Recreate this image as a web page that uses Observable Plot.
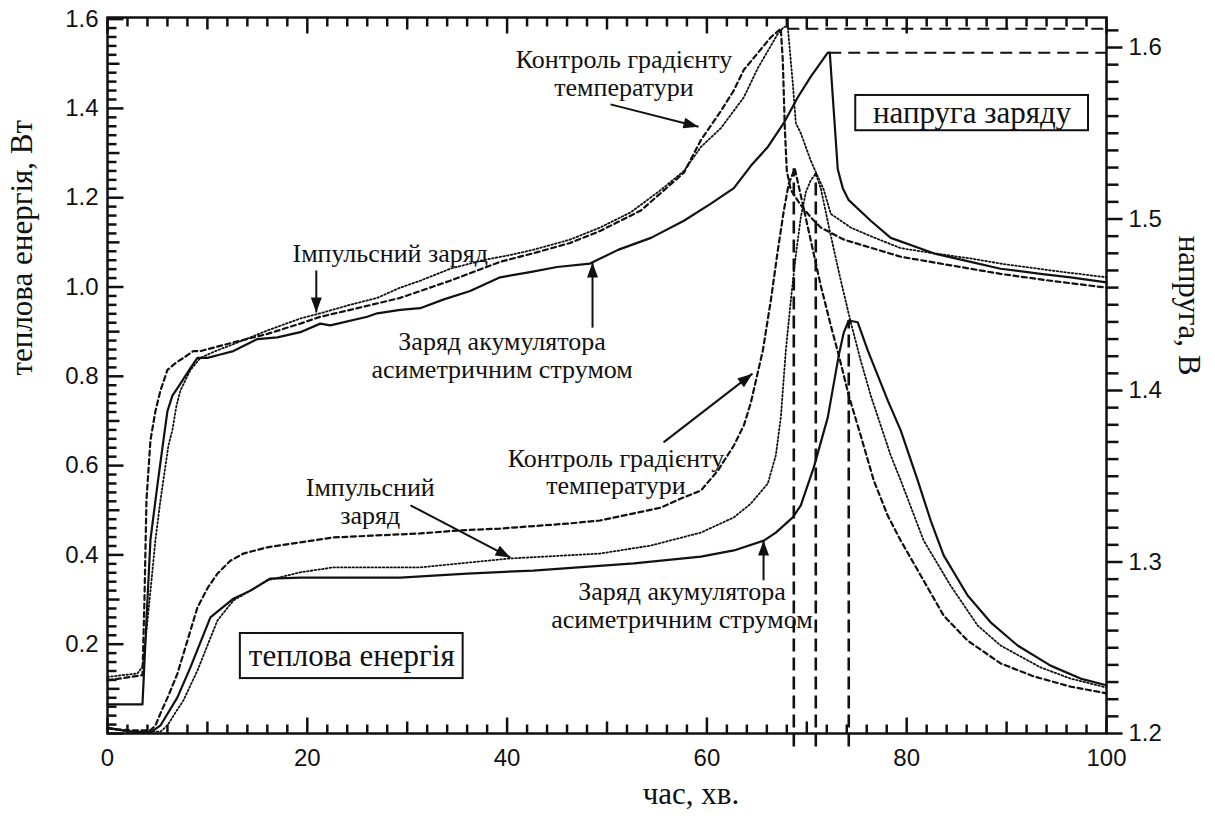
<!DOCTYPE html>
<html><head><meta charset="utf-8">
<script src="https://cdn.jsdelivr.net/npm/d3@7"></script>
<script src="https://cdn.jsdelivr.net/npm/@observablehq/plot@0.6"></script>
<style>
html,body{margin:0;padding:0;background:#fff;}
#chart{width:1215px;height:820px;}
</style></head><body><div id="chart"></div>
<script>
// ---------- DATA (time in min, heat in W, voltage in V) ----------
const voltSolid = [[0,1.217],[3.5,1.217],[3.9,1.266],[4.3,1.313],[5.0,1.345],[5.6,1.371],[6.0,1.388],[6.5,1.397],[7.3,1.404],[8.3,1.413],[9.0,1.419],[10.0,1.419],[11.3,1.421],[12.6,1.423],[15.0,1.430],[17.0,1.431],[19.3,1.434],[21.3,1.439],[22.3,1.438],[26.0,1.443],[27.0,1.445],[29.3,1.447],[31.3,1.448],[33.6,1.453],[36.3,1.458],[39.3,1.466],[42.3,1.469],[45.0,1.472],[48.3,1.474],[51.1,1.482],[54.4,1.489],[57.7,1.499],[60.4,1.509],[62.7,1.518],[64.4,1.531],[66.1,1.542],[67.7,1.556],[69.1,1.571],[70.4,1.583],[72.1,1.597],[72.3,1.597],[72.7,1.563],[73.1,1.529],[73.6,1.518],[74.2,1.511],[76.4,1.499],[78.4,1.489],[82.7,1.480],[86.4,1.475],[89.4,1.471],[93.4,1.468],[96.4,1.466],[100,1.463]];
const voltPulse = [[0,1.233],[3.0,1.235],[3.5,1.239],[3.8,1.254],[4.3,1.283],[4.8,1.313],[5.3,1.336],[5.6,1.348],[6.1,1.368],[6.5,1.377],[6.9,1.391],[7.3,1.400],[8.3,1.412],[9.3,1.419],[10.8,1.423],[12.6,1.427],[16.0,1.435],[19.3,1.442],[21.3,1.445],[24.3,1.450],[27.0,1.454],[29.3,1.460],[31.3,1.464],[34.3,1.471],[37.6,1.476],[40.3,1.479],[42.6,1.482],[46.3,1.488],[49.3,1.495],[52.4,1.504],[55.4,1.517],[57.7,1.528],[59.4,1.542],[61.4,1.553],[63.7,1.571],[65.1,1.588],[66.4,1.601],[67.1,1.608],[67.7,1.612],[68.1,1.612],[68.4,1.592],[68.6,1.579],[68.9,1.556],[69.4,1.550],[70.4,1.534],[71.7,1.517],[72.4,1.503],[74.4,1.495],[76.4,1.490],[79.4,1.483],[82.7,1.480],[86.4,1.477],[89.4,1.474],[94.4,1.470],[100,1.466]];
const voltGrad = [[0,1.231],[3.5,1.234],[3.7,1.278],[3.9,1.336],[4.3,1.371],[4.8,1.388],[5.3,1.400],[6.0,1.412],[6.8,1.416],[7.6,1.419],[8.6,1.423],[9.3,1.423],[12.6,1.428],[16.0,1.433],[19.3,1.439],[21.3,1.443],[24.3,1.447],[29.3,1.454],[34.3,1.464],[39.3,1.475],[42.6,1.480],[46.3,1.486],[49.3,1.493],[53.4,1.505],[57.7,1.527],[59.4,1.546],[61.4,1.563],[62.7,1.575],[63.7,1.587],[64.7,1.594],[66.4,1.606],[67.4,1.611],[67.6,1.592],[67.8,1.553],[68.0,1.528],[68.4,1.517],[69.4,1.508],[70.4,1.501],[71.4,1.495],[73.7,1.488],[79.4,1.478],[84.4,1.473],[89.4,1.468],[94.4,1.464],[100,1.460]];

const heatSolid = [[0,0.013],[2.3,0.004],[4.3,0.002],[5.3,0.018],[7.0,0.081],[8.3,0.148],[10.3,0.260],[12.6,0.302],[14.3,0.320],[16.3,0.347],[19.3,0.349],[29.3,0.349],[36.0,0.358],[42.6,0.365],[52.7,0.381],[59.4,0.396],[62.7,0.410],[65.7,0.432],[66.9,0.450],[67.9,0.470],[68.6,0.484],[69.4,0.511],[70.7,0.596],[72.1,0.708],[73.2,0.847],[73.7,0.898],[74.2,0.925],[75.1,0.921],[76.1,0.858],[77.1,0.802],[78.1,0.746],[79.4,0.679],[81.1,0.567],[82.4,0.477],[83.7,0.399],[86.1,0.309],[88.4,0.249],[91.1,0.197],[94.4,0.152],[97.4,0.123],[100,0.108]];
const heatPulse = [[0,0.011],[2.3,0.004],[5.3,0.004],[6.0,0.018],[6.8,0.047],[7.6,0.074],[9.0,0.141],[11.0,0.253],[12.6,0.298],[14.3,0.320],[16.0,0.343],[19.3,0.361],[22.6,0.372],[31.3,0.372],[40.3,0.392],[49.3,0.403],[54.4,0.421],[59.4,0.450],[62.7,0.484],[64.4,0.515],[66.1,0.560],[66.9,0.623],[67.4,0.708],[67.9,0.858],[68.4,0.970],[68.9,1.071],[69.4,1.156],[69.9,1.212],[70.4,1.239],[70.9,1.254],[71.4,1.221],[72.4,1.115],[73.4,1.015],[74.4,0.921],[75.4,0.835],[76.4,0.757],[77.4,0.690],[78.4,0.623],[79.4,0.567],[81.7,0.432],[84.4,0.331],[87.1,0.242],[89.4,0.197],[93.4,0.148],[96.4,0.123],[100,0.103]];
const heatGrad = [[0,0.011],[2.3,0.007],[4.3,0.007],[4.8,0.018],[5.3,0.045],[6.1,0.085],[7.0,0.134],[8.0,0.208],[9.0,0.282],[10.0,0.325],[11.0,0.358],[12.3,0.387],[13.6,0.403],[16.0,0.417],[19.3,0.428],[22.6,0.439],[26.3,0.443],[31.3,0.448],[35.3,0.455],[39.3,0.459],[46.0,0.470],[49.3,0.477],[52.7,0.493],[55.4,0.506],[57.7,0.529],[59.4,0.544],[61.1,0.589],[62.7,0.645],[63.7,0.690],[64.4,0.741],[65.6,0.858],[66.4,0.970],[67.1,1.082],[67.7,1.171],[68.2,1.232],[68.8,1.265],[69.4,1.205],[70.4,1.104],[71.4,1.003],[72.4,0.914],[73.2,0.847],[74.2,0.757],[75.4,0.667],[76.7,0.567],[78.1,0.488],[79.4,0.432],[81.4,0.354],[83.7,0.264],[86.1,0.208],[89.4,0.157],[92.7,0.128],[96.4,0.105],[100,0.090]];

// cut-off markers: heat peaks (vertical) and voltage peaks (horizontal)
const cutoffTimes = [68.7, 70.9, 74.2];
const cutoffHeat  = [1.265, 1.254, 0.925];
const capTimes = [68.1, 72.3];
const capVolts = [1.611, 1.597];

// tick labels
const xTickLabels = [0, 20, 40, 60, 80, 100];
const heatTickLabels = [0.2, 0.4, 0.6, 0.8, 1.0, 1.2, 1.4, 1.6];
const voltTickLabels = [1.2, 1.3, 1.4, 1.5, 1.6];

// annotation texts
const noteTexts = [
  "Контроль градієнту\nтемператури",
  "Імпульсний заряд",
  "Заряд акумулятора\nасиметричним струмом",
  "Контроль градієнту\nтемператури",
  "Імпульсний\nзаряд",
  "Заряд акумулятора\nасиметричним струмом"
];
const noteT = [51.7, 28.3, 39.5, 50.9, 26.3, 57.5];
const noteE = [1.479, 1.075, 0.847, 0.587, 0.520, 0.287];
const arrowT1 = [50.35, 20.9, 48.55, 55.66, 30.33, 65.67];
const arrowE1 = [1.409, 1.037, 0.909, 0.652, 0.511, 0.343];
const arrowT2 = [59.16, 20.9, 48.55, 64.56, 40.34, 65.67];
const arrowE2 = [1.359, 0.943, 1.055, 0.806, 0.394, 0.432];
const boxTexts = ["теплова енергія", "напруга заряду"];
const boxT1 = [13.3, 74.9], boxT2 = [35.6, 98.2];
const boxE1 = [0.123, 1.350], boxE2 = [0.224, 1.429];

// ---------- SCALES ----------
const E_MAX = 1.6036, V_MIN = 1.2, V_MAX = 1.6175, T_MAX = 100;
const toLeft = v => (v - V_MIN) / (V_MAX - V_MIN) * E_MAX;
const fromLeft = e => V_MIN + e / E_MAX * (V_MAX - V_MIN);

const CW = 1215, CH = 820, ML = 107, MR = 109, MT = 17, MB = 87;
const PW = CW - ML - MR, PH = CH - MT - MB;
const ePx = E_MAX / PH;   // heat units per pixel (tick lengths)
const tPx = T_MAX / PW;   // time units per pixel

const serif = "Liberation Serif, Times New Roman, serif";
const sans = "Liberation Sans, Arial, sans-serif";
const ink = "#111";

const voltRows = p => p.map(([t, v]) => ({t, y: toLeft(v)}));
const heatRows = p => p.map(([t, e]) => ({t, y: e}));

const xMid = [10, 30, 50, 70, 90];
const xMinor = [2,4,6,8,12,14,16,18,22,24,26,28,32,34,36,38,42,44,46,48,52,54,56,58,62,64,66,68,72,74,76,78,82,84,86,88,92,94,96,98];
const yMid = [0.1, 0.3, 0.5, 0.7, 0.9, 1.1, 1.3, 1.5];
const yMinor = [];
for (let i = 0; i <= 80; i++) { if (i % 5 !== 0) yMinor.push(i * 0.02); }
const vMinor = [];
for (let i = 120; i <= 161; i++) { if (i % 10 !== 0) vMinor.push(i / 100); }

// tick segments: inward on bottom/top/left, outward on the voltage axis
const tickSegs = [];
for (const [arr, L] of [[xTickLabels, 16], [xMid, 12], [xMinor, 9]]) {
  for (const v of arr) {
    tickSegs.push({x1: v, x2: v, y1: 0, y2: L * ePx});
    tickSegs.push({x1: v, x2: v, y1: E_MAX - L * ePx, y2: E_MAX});
  }
}
for (const [arr, L] of [[[0, ...heatTickLabels], 16], [yMid, 12], [yMinor, 9]]) {
  for (const v of arr) tickSegs.push({x1: 0, x2: L * tPx, y1: v, y2: v});
}
for (const [arr, L] of [[voltTickLabels, 16], [vMinor, 12]]) {
  for (const v of arr) tickSegs.push({x1: T_MAX, x2: T_MAX + L * tPx, y1: toLeft(v), y2: toLeft(v)});
}

const notes = noteTexts.map((s, i) => ({s, t: noteT[i], e: noteE[i]}));
const arrows = arrowT1.map((t, i) => ({t1: t, e1: arrowE1[i], t2: arrowT2[i], e2: arrowE2[i]}));
const boxes = boxTexts.map((s, i) => ({s, t1: boxT1[i], t2: boxT2[i], e1: boxE1[i], e2: boxE2[i], tc: (boxT1[i] + boxT2[i]) / 2, ec: (boxE1[i] + boxE2[i]) / 2}));
const cutoffs = cutoffTimes.map((t, i) => ({t, e: cutoffHeat[i]}));
const caps = capTimes.map((t, i) => ({t, y: toLeft(capVolts[i])}));

function arrowHead(color, context) {
  const doc = (context && context.document) || document;
  const ns = "http://www.w3.org/2000/svg";
  const m = doc.createElementNS(ns, "marker");
  m.setAttribute("viewBox", "-16 -7 17 14");
  m.setAttribute("markerWidth", 17);
  m.setAttribute("markerHeight", 14);
  m.setAttribute("markerUnits", "userSpaceOnUse");
  m.setAttribute("orient", "auto");
  m.setAttribute("refX", 0);
  m.setAttribute("refY", 0);
  m.setAttribute("overflow", "visible");
  const p = doc.createElementNS(ns, "path");
  p.setAttribute("d", "M0,0L-15,-5.5L-15,5.5Z");
  p.setAttribute("fill", color || ink);
  p.setAttribute("stroke", "none");
  m.appendChild(p);
  return m;
}

function build(head) {
  return Plot.plot({
    width: CW, height: CH,
    marginLeft: ML, marginRight: MR, marginTop: MT, marginBottom: MB,
    x: {domain: [0, T_MAX], axis: null},
    y: {domain: [0, E_MAX], axis: null},
    style: {background: "#fff", fontFamily: sans, fontSize: "24px", color: ink, overflow: "visible"},
    marks: [
      // tick labels
      Plot.axisX(xTickLabels, {anchor: "bottom", tickSize: 0, tickPadding: 15, label: null, fill: ink, fontSize: 24, fontFamily: sans}),
      Plot.axisY(heatTickLabels, {anchor: "left", tickSize: 0, tickPadding: 9, tickFormat: d3.format(".1f"), label: null, fill: ink, fontSize: 24, fontFamily: sans}),
      Plot.axisY(voltTickLabels.map(toLeft), {anchor: "right", tickSize: 0, tickPadding: 22, tickFormat: d => d3.format(".1f")(fromLeft(d)), label: null, fill: ink, fontSize: 24, fontFamily: sans}),
      // boxes
      Plot.rect(boxes, {x1: "t1", x2: "t2", y1: "e1", y2: "e2", fill: "#fff", stroke: ink, strokeWidth: 2}),
      // cut-off markers
      Plot.ruleX(cutoffs, {x: "t", y1: -0.03, y2: "e", stroke: ink, strokeWidth: 2.6, strokeDasharray: "13,6"}),
      Plot.ruleY(caps, {y: "y", x1: "t", x2: T_MAX, stroke: ink, strokeWidth: 2, strokeDasharray: "12,7"}),
      Plot.ruleX(caps.slice(0, 1), {x: "t", y1: "y", y2: E_MAX, stroke: ink, strokeWidth: 2}),
      // voltage curves
      Plot.line(voltRows(voltSolid), {x: "t", y: "y", stroke: ink, strokeWidth: 2.2}),
      Plot.line(voltRows(voltPulse), {x: "t", y: "y", stroke: ink, strokeWidth: 1.8, strokeDasharray: "1.6,2.2"}),
      Plot.line(voltRows(voltGrad), {x: "t", y: "y", stroke: ink, strokeWidth: 2.2, strokeDasharray: "5,3.5"}),
      // heat curves
      Plot.line(heatRows(heatSolid), {x: "t", y: "y", stroke: ink, strokeWidth: 2.2}),
      Plot.line(heatRows(heatPulse), {x: "t", y: "y", stroke: ink, strokeWidth: 1.8, strokeDasharray: "1.6,2.2"}),
      Plot.line(heatRows(heatGrad), {x: "t", y: "y", stroke: ink, strokeWidth: 2.2, strokeDasharray: "5,3.5"}),
      // frame and ticks
      Plot.frame({stroke: ink, strokeWidth: 2.5}),
      Plot.link(tickSegs, {x1: "x1", x2: "x2", y1: "y1", y2: "y2", stroke: ink, strokeWidth: 2.5, strokeLinecap: "butt"}),
      // annotations
      Plot.link(arrows, {x1: "t1", y1: "e1", x2: "t2", y2: "e2", stroke: ink, strokeWidth: 2, markerEnd: head}),
      Plot.text(notes, {x: "t", y: "e", text: "s", fontFamily: serif, fontSize: 26, lineHeight: 1.05, fill: ink}),
      Plot.text(boxes, {x: "tc", y: "ec", text: "s", fontFamily: serif, fontSize: 31, fill: ink}),
      // axis titles
      Plot.text(["теплова енергія, Вт"], {frameAnchor: "left", dx: -85, rotate: -90, fontFamily: serif, fontSize: 31, fill: ink}),
      Plot.text(["напруга, В"], {frameAnchor: "right", dx: 82, rotate: 90, fontFamily: serif, fontSize: 31, fill: ink}),
      Plot.text(["час, хв."], {frameAnchor: "bottom", dx: 84, dy: 70, fontFamily: serif, fontSize: 31, fill: ink})
    ]
  });
}

let chart;
try { chart = build(arrowHead); } catch (e) { chart = build("arrow"); }
document.getElementById("chart").append(chart);
</script>
</body></html>
